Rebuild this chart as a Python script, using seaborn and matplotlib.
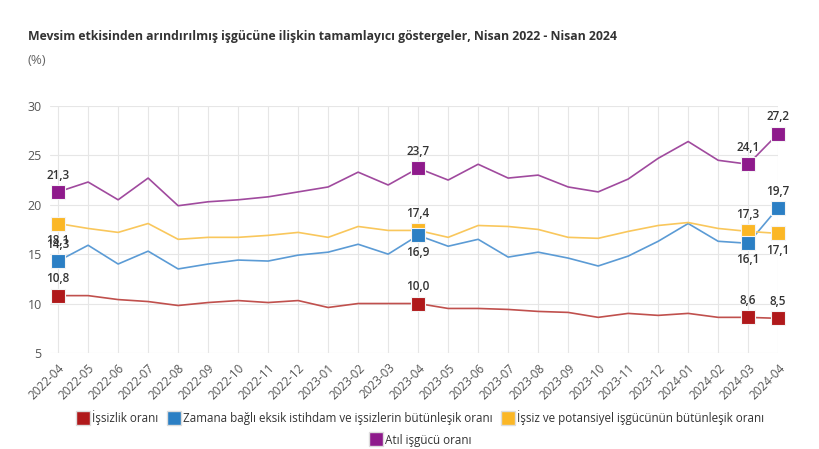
import matplotlib
matplotlib.use('Agg')
import matplotlib.pyplot as plt
import seaborn as sns
import pandas as pd
from matplotlib.lines import Line2D

months = ['2022-04', '2022-05', '2022-06', '2022-07', '2022-08', '2022-09', '2022-10',
          '2022-11', '2022-12', '2023-01', '2023-02', '2023-03', '2023-04', '2023-05',
          '2023-06', '2023-07', '2023-08', '2023-09', '2023-10', '2023-11', '2023-12',
          '2024-01', '2024-02', '2024-03', '2024-04']

issizlik = [10.8, 10.8, 10.4, 10.2, 9.8, 10.1, 10.3, 10.1, 10.3, 9.6, 10.0, 10.0, 10.0,
            9.5, 9.5, 9.4, 9.2, 9.1, 8.6, 9.0, 8.8, 9.0, 8.6, 8.6, 8.5]
zamana_bagli = [14.3, 15.9, 14.0, 15.3, 13.5, 14.0, 14.4, 14.3, 14.9, 15.2, 16.0, 15.0, 16.9,
                15.8, 16.5, 14.7, 15.2, 14.6, 13.8, 14.8, 16.3, 18.1, 16.3, 16.1, 19.7]
potansiyel = [18.1, 17.6, 17.2, 18.1, 16.5, 16.7, 16.7, 16.9, 17.2, 16.7, 17.8, 17.4, 17.4,
              16.7, 17.9, 17.8, 17.5, 16.7, 16.6, 17.3, 17.9, 18.2, 17.6, 17.3, 17.1]
atil = [21.3, 22.3, 20.5, 22.7, 19.9, 20.3, 20.5, 20.8, 21.3, 21.8, 23.3, 22.0, 23.7,
        22.5, 24.1, 22.7, 23.0, 21.8, 21.3, 22.6, 24.7, 26.4, 24.5, 24.1, 27.2]

series_names = ['İşsizlik oranı',
                'Zamana bağlı eksik istihdam ve işsizlerin bütünleşik oranı',
                'İşsiz ve potansiyel işgücünün bütünleşik oranı',
                'Atıl işgücü oranı']
series_values = [issizlik, zamana_bagli, potansiyel, atil]
colors = ['#B0191B', '#2B7FC4', '#FBB726', '#8E1A8B']
line_colors = ['#C0504D', '#5B9BD5', '#F9C75C', '#A04A9E']
marker_z = [6, 7, 5, 8]

# isaretli noktalar ve etiket yonleri (1 = ustte, -1 = altta)
marked_idx = [0, 12, 23, 24]
label_side = [
    [1, 1, 1, 1],
    [1, -1, -1, 1],
    [-1, 1, 1, -1],
    [1, 1, 1, 1],
]

rows = []
for name, vals in zip(series_names, series_values):
    for i, v in enumerate(vals):
        rows.append({'idx': i, 'ay': months[i], 'seri': name, 'deger': v})
df = pd.DataFrame(rows)

sns.set_theme(style='white')
plt.rcParams['font.family'] = ['Open Sans', 'DejaVu Sans']

fig = plt.figure(figsize=(8.2, 4.49), dpi=100)
ax = fig.add_axes([0.061, 0.214, 0.888, 0.550])

sns.lineplot(data=df, x='idx', y='deger', hue='seri', hue_order=series_names,
             palette=line_colors, linewidth=1.2, legend=False, ax=ax, zorder=3)

for k, name in enumerate(series_names):
    sub = df[(df['seri'] == name) & (df['idx'].isin(marked_idx))]
    sns.scatterplot(data=sub, x='idx', y='deger', color=colors[k], marker='s', s=115,
                    edgecolor='#f4f4f4', linewidth=0.8, legend=False, ax=ax,
                    zorder=marker_z[k], clip_on=False)

for k, vals in enumerate(series_values):
    for j, i in enumerate(marked_idx):
        side = label_side[k][j]
        ax.annotate(f'{vals[i]:.1f}'.replace('.', ','), (i, vals[i]),
                    xytext=(0, 12 * side), textcoords='offset points',
                    ha='center', va='center', fontsize=8.5, color='#333333',
                    fontweight='semibold', zorder=9, annotation_clip=False)

ax.set_xlim(-0.27, 24)
ax.set_ylim(5, 30)
ax.set_yticks([5, 10, 15, 20, 25, 30])
ax.set_xticks(range(len(months)))
ax.set_xticklabels(months, rotation=45, ha='right', rotation_mode='anchor')
ax.tick_params(axis='x', labelsize=8.5, labelcolor='#555555', length=4, color='#dddddd', pad=2)
ax.tick_params(axis='y', labelsize=9, labelcolor='#555555', length=0, pad=6)
ax.grid(True, color='#e6e6e6', linewidth=0.8)
ax.set_axisbelow(True)
for s in ax.spines.values():
    s.set_visible(False)
ax.set_xlabel('')
ax.set_ylabel('')

fig.text(0.034, 0.918, 'Mevsim etkisinden arındırılmış işgücüne ilişkin tamamlayıcı göstergeler, Nisan 2022 - Nisan 2024',
         fontsize=8.8, fontweight='bold', color='#333333', va='center')
fig.text(0.034, 0.865, '(%)', fontsize=9.5, color='#666666', va='center')

handles = [Line2D([], [], marker='s', linestyle='', markersize=10, markerfacecolor=c,
                  markeredgecolor='#dddddd') for c in colors]
leg1 = fig.legend(handles[:3], series_names[:3], loc='center', bbox_to_anchor=(0.513, 0.069),
                  ncol=3, frameon=False, fontsize=8.4, handletextpad=0.3, columnspacing=0.8,
                  handlelength=1.0, labelcolor='#333333')
leg2 = fig.legend(handles[3:], series_names[3:], loc='center', bbox_to_anchor=(0.513, 0.02),
                  ncol=1, frameon=False, fontsize=8.4, handletextpad=0.3,
                  handlelength=1.0, labelcolor='#333333')

fig.savefig('out.png', dpi=100)
plt.close(fig)
